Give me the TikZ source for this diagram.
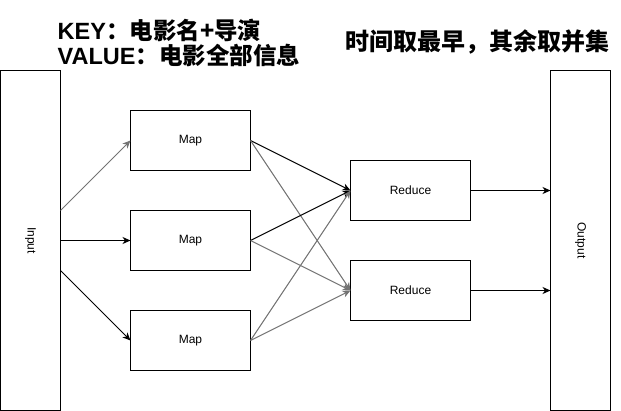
\documentclass[tikz,border=0pt]{standalone}
\usepackage{fontspec}
\setmainfont{Liberation Sans}
\newfontfamily\cjkfont{Noto Sans CJK SC}
\usetikzlibrary{positioning,arrows.meta}

\begin{document}
\begin{tikzpicture}[x=1pt, y=-1pt,
stagebox/.style={rectangle, draw=black, fill=white, line width=1pt, outer sep=0pt, minimum width=120pt, minimum height=60pt, font=\fontsize{12}{14}\selectfont},
sidebox/.style={rectangle, draw=black, fill=white, line width=1pt, outer sep=0pt, minimum width=60pt, minimum height=340pt, font=\fontsize{12}{14}\selectfont},
notetext/.style={inner sep=0pt, font=\fontsize{23.5}{25}\selectfont\bfseries},
flow/.style={-{Stealth[length=8pt, width=7pt, inset=2.5pt]}, line width=1pt, draw=black},
flowlight/.style={flow, draw=black!55},
]
\useasboundingbox (-0.5,-0.5) rectangle (620.5,410.5);
%Nodes
\node[sidebox]      (In)     at (30,240)             {\rotatebox{-90}{Input}};
\node[stagebox]     (Map2)   [right=70pt of In]      {Map};
\node[stagebox]     (Map1)   [above=40pt of Map2]    {Map};
\node[stagebox]     (Map3)   [below=40pt of Map2]    {Map};
\node[stagebox]     (Red1)   at (410,190)            {Reduce};
\node[stagebox]     (Red2)   [below=40pt of Red1]    {Reduce};
\node[sidebox]      (Out)    at (580,240)            {\rotatebox{-90}{Output}};
\node[notetext, anchor=west] (Key)   at (57,30) {KEY{\cjkfont ：电影名+导演}};
\node[notetext, anchor=west] (Value) at (57,55) {VALUE{\cjkfont ：电影全部信息}};
\node[notetext, font=\fontsize{24}{26}\selectfont\cjkfont\bfseries] (Rule) at (477,41) {时间取最早，其余取并集};

%Lines
\draw[flowlight] ([yshift=30pt]In.east) -- (Map1.west);
\draw[flow] (In.east) -- (Map2.west);
\draw[flow] ([yshift=-30pt]In.east) -- (Map3.west);
\draw[flow] (Map1.east) -- (Red1.west);
\draw[flowlight] (Map1.east) -- (Red2.west);
\draw[flow] (Map2.east) -- (Red1.west);
\draw[flowlight] (Map2.east) -- (Red2.west);
\draw[flowlight] (Map3.east) -- (Red1.west);
\draw[flowlight] (Map3.east) -- (Red2.west);
\draw[flow] (Red1.east) -- (Out.west |- Red1.east);
\draw[flow] (Red2.east) -- (Out.west |- Red2.east);
\end{tikzpicture}
\end{document}
